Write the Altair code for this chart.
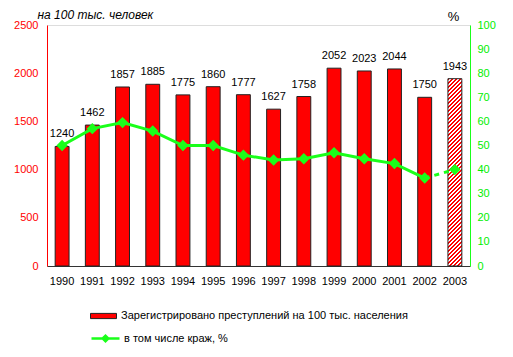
import altair as alt
import pandas as pd

years = ["1990", "1991", "1992", "1993", "1994", "1995", "1996",
         "1997", "1998", "1999", "2000", "2001", "2002", "2003"]
crimes = [1240, 1462, 1857, 1885, 1775, 1860, 1777, 1627, 1758, 2052, 2023, 2044, 1750, 1943]
theft_pct = [50, 57, 59.5, 56, 50, 50, 46, 44, 44.5, 47, 44.5, 42.5, 36.5, 40]

bar_name = "Зарегистрировано преступлений на 100 тыс. населения"
line_name = "в  том числе краж, %"
left_title = "на 100 тыс. человек"
right_title = "%"

df = pd.DataFrame({"year": years, "crimes": crimes, "pct": theft_pct})
df["yr"] = df["year"].astype(int)
df["s1"] = bar_name
df["s2"] = line_name

RED = "#ff0000"
GREEN = "#1aff1a"
FONT = "Liberation Sans"

W, H = 423, 241
PI = 0.54
PO = 0.27

# hatch gradient for the last (estimated) bar
step = W / (len(years) - PI + 2 * PO)
bw = step * (1 - PI)
bh = crimes[-1] / 2500 * H
k = (bw + bh) / (bw ** 2 + bh ** 2)
L = bw + bh
period = 4.0
stops = []
i = 0
while i * period < L:
    a = min(i * period / L, 1)
    m = min((i + 0.5) * period / L, 1)
    b = min((i + 1) * period / L, 1)
    stops += [{"offset": a, "color": RED}, {"offset": m, "color": RED},
              {"offset": m, "color": "#ffffff"}, {"offset": b, "color": "#ffffff"}]
    i += 1
hatch = {"gradient": "linear", "x1": 0, "y1": 0, "x2": bw * k, "y2": bh * k, "stops": stops}

x_enc = alt.X("year:O", sort=years, title=None,
              scale=alt.Scale(paddingInner=PI, paddingOuter=PO),
              axis=alt.Axis(labelAngle=0, ticks=False, tickSize=0, labelPadding=9,
                            domainColor="#333333", labelColor="#000000", labelFontSize=11))

y_left = alt.Y("crimes:Q", scale=alt.Scale(domain=[0, 2500]),
               axis=alt.Axis(values=[0, 500, 1000, 1500, 2000, 2500], format="d", ticks=False,
                             tickSize=0, labelPadding=9, labelColor=RED, domainColor=RED,
                             grid=False, labelFontSize=11, title=left_title, titleAngle=0,
                             titleX=-10, titleY=-7, titleAlign="left",
                             titleBaseline="alphabetic", titleFontStyle="italic",
                             titleFontWeight="normal", titleFontSize=12,
                             titleColor="#000000"))

y_right = alt.Y("pct:Q", scale=alt.Scale(domain=[0, 100]),
                axis=alt.Axis(orient="right", values=list(range(0, 101, 10)), format="d",
                              ticks=False, tickSize=0, labelPadding=7, labelColor="#00ee00",
                              domainColor=GREEN, grid=False, labelFontSize=11,
                              title=right_title, titleAngle=0, titleX=-17, titleY=-5,
                              titleAlign="center", titleBaseline="alphabetic",
                              titleFontWeight="normal", titleFontSize=13,
                              titleColor="#000000"))

base = alt.Chart(df)

bars = base.transform_filter("datum.yr < 2003").mark_bar(stroke="#222222", strokeWidth=1).encode(
    x=x_enc, y=y_left,
    fill=alt.Fill("s1:N", scale=alt.Scale(range=[RED]),
                  legend=alt.Legend(title=None, orient="none", legendX=43, legendY=277.5,
                                    symbolType="M-1,-0.2H1V0.2H-1Z", symbolSize=676,
                                    symbolStrokeColor="#222222", symbolStrokeWidth=1,
                                    labelFontSize=11, labelColor="#000000", labelOffset=4,
                                    padding=0, labelLimit=400)))

hatched = base.transform_filter("datum.yr == 2003").mark_bar(
    color=hatch, stroke="#222222", strokeWidth=1).encode(x=x_enc, y=y_left)

labels = base.mark_text(fontSize=11, dy=-9, baseline="alphabetic", color="#000000").encode(
    x=x_enc, y=y_left, text=alt.Text("crimes:Q", format="d"))

line = base.transform_filter("datum.yr <= 2002").mark_line(strokeWidth=3).encode(
    x=x_enc, y=y_right,
    stroke=alt.Stroke("s2:N", scale=alt.Scale(range=[GREEN]),
                      legend=alt.Legend(title=None, orient="none", legendX=43, legendY=298,
                                        symbolType="M-1,0H1M-0.2,0L0,-0.2L0.2,0L0,0.2Z",
                                        symbolSize=784, symbolStrokeWidth=2.5,
                                        symbolFillColor=GREEN,
                                        labelFontSize=11, labelColor="#000000", labelOffset=3,
                                        padding=0, labelLimit=400)))

dashed = base.transform_filter("datum.yr >= 2002").mark_line(
    strokeWidth=3, strokeDash=[5, 5], color=GREEN).encode(x=x_enc, y=y_right)

points = base.mark_point(shape="diamond", filled=True, size=130, color=GREEN, opacity=1).encode(
    x=x_enc, y=y_right)

left = alt.layer(bars, hatched, labels)
right = alt.layer(line, dashed, points)

chart = alt.layer(left, right).resolve_scale(y="independent").properties(
    width=W, height=H,
    autosize=alt.AutoSizeParams(type="none"),
    padding={"left": 47, "top": 25, "right": 43, "bottom": 91},
    background="#ffffff",
).configure_view(stroke=None).configure(font=FONT)

chart.save("out.html", embed_options={"renderer": "svg", "actions": False})
